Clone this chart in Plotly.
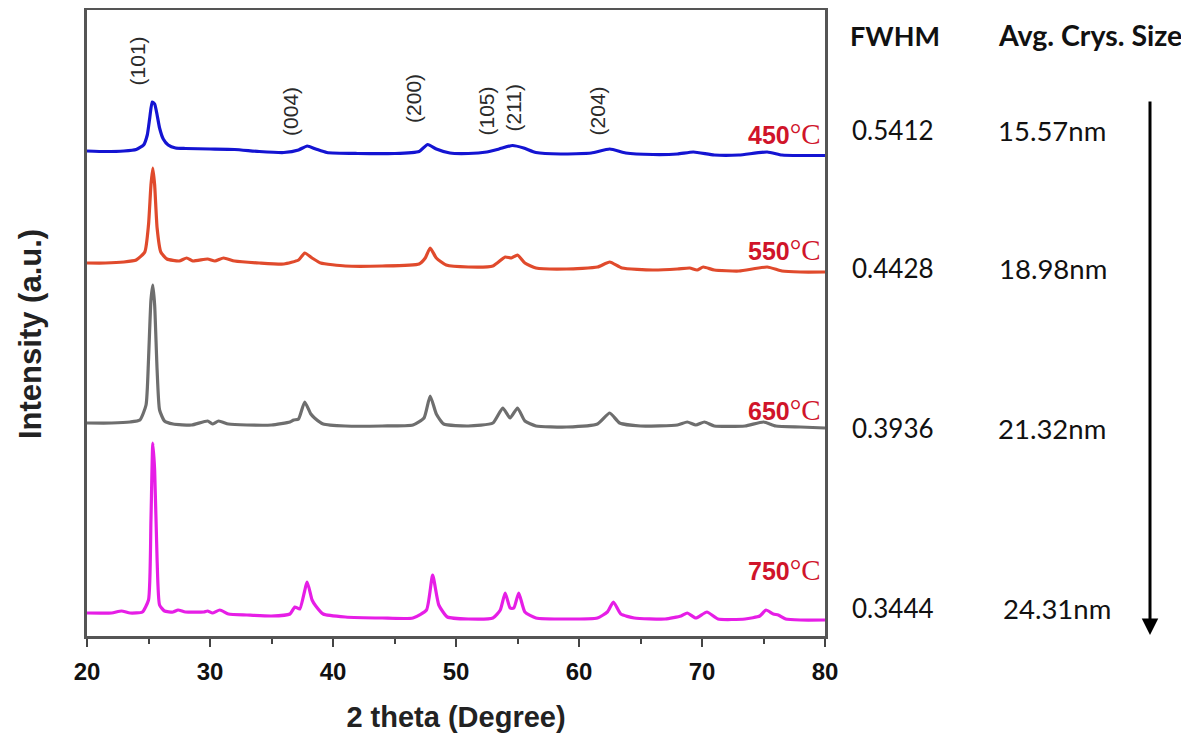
import plotly.graph_objects as go

# ---------------- data ----------------
two_theta_450 = [20.0, 21.5, 23.0, 24.0, 24.6, 24.9, 25.1, 25.3, 25.5, 25.7, 25.9, 26.2, 26.6, 27.2, 28.0, 30.0,
                 32.0, 34.0, 36.0, 37.2, 37.9, 38.6, 39.5, 42.0, 45.0, 47.0, 47.7, 48.4, 49.5, 51.0, 52.5, 53.5,
                 54.6, 55.5, 56.5, 58.5, 61.0, 62.5, 63.8, 66.0, 68.0, 69.3, 71.0, 73.0, 75.3, 76.5, 78.0, 80.0]
int_450 = [485, 484.5, 485, 486.5, 491, 501, 518, 534, 532, 521, 508, 497, 491, 488, 487.5, 487,
           486.5, 484.5, 483.5, 486, 490, 487, 483.5, 482.5, 482.5, 484.5, 491.5, 487, 483, 482.5, 484, 487,
           490.5, 488, 483.5, 482, 483, 487, 483, 481.5, 482, 484, 481, 481, 484, 481, 480.5, 480.5]

two_theta_550 = [20.0, 21.5, 23.0, 24.0, 24.7, 25.0, 25.2, 25.35, 25.5, 25.7, 26.0, 26.5, 27.5, 28.1, 28.6, 29.8,
                 30.4, 31.1, 32.0, 34.0, 36.0, 37.2, 37.7, 38.3, 39.0, 41.0, 44.0, 47.0, 47.5, 47.9, 48.4, 49.2,
                 51.0, 53.0, 54.0, 54.5, 55.0, 55.6, 56.5, 59.0, 61.5, 62.5, 63.5, 66.0, 68.0, 69.0, 69.6, 70.1,
                 71.0, 73.0, 75.3, 76.5, 78.0, 80.0]
int_550 = [373, 373, 374, 376, 384, 411, 451, 468, 451, 408, 384, 377, 375, 378, 375, 377,
           375, 378, 375, 373, 372, 376, 383, 378, 373, 370, 370, 372, 378, 388, 378, 371,
           369, 370, 379, 378, 381, 373, 368, 367, 369, 374, 368, 366, 367, 368, 366, 369,
           366, 365, 369, 365, 364, 364]

two_theta_650 = [20.0, 22.0, 23.5, 24.3, 24.8, 25.0, 25.2, 25.35, 25.5, 25.7, 25.9, 26.3, 27.0, 28.5, 29.8, 30.2,
                 30.7, 31.5, 33.0, 35.0, 36.5, 36.8, 37.2, 37.7, 38.2, 38.5, 39.2, 41.0, 44.0, 46.5, 47.4, 47.9,
                 48.4, 49.0, 51.0, 53.0, 53.8, 54.4, 55.0, 55.6, 56.5, 59.0, 61.5, 62.5, 63.3, 65.0, 68.0, 68.8,
                 69.5, 70.2, 71.0, 73.5, 75.0, 76.0, 78.0, 80.0]
int_650 = [213, 213, 214, 216, 231, 276, 336, 351, 331, 266, 226, 215, 212, 211, 215, 212,
           215, 212, 211, 211, 214, 216, 217, 234, 222, 218, 212, 210, 210, 211, 218, 240,
           222, 212, 210, 213, 228, 218, 228, 215, 210, 209, 212, 223, 213, 210, 211, 214,
           211, 214, 210, 210, 214, 210, 209, 208]

two_theta_750 = [20.0, 22.0, 22.8, 23.5, 24.5, 25.0, 25.2, 25.35, 25.5, 25.7, 25.9, 26.3, 27.0, 27.4, 28.0, 29.5,
                 29.8, 30.2, 30.8, 31.5, 33.0, 35.0, 36.5, 36.9, 37.3, 37.9, 38.3, 38.6, 39.2, 41.0, 44.0, 46.5,
                 47.6, 48.1, 48.6, 49.3, 51.0, 53.0, 53.6, 54.0, 54.4, 54.7, 55.1, 55.6, 56.5, 59.0, 61.5, 62.3,
                 62.8, 63.4, 64.5, 67.0, 68.3, 68.8, 69.5, 70.4, 71.3, 73.5, 74.7, 75.2, 75.8, 76.2, 76.8, 78.0, 80.0]
int_750 = [23, 23, 25, 23, 24, 36, 116, 193, 166, 76, 31, 25, 24, 26, 24, 24,
           25, 23, 26, 22, 21, 20, 22, 29, 27, 54, 36, 30, 22, 19, 18, 18,
           26, 61, 31, 19, 17, 18, 26, 43, 28, 28, 43, 24, 18, 17, 18, 24,
           34, 22, 18, 17, 20, 23, 18, 24, 17, 17, 20, 26, 22, 21, 17, 16, 16]

temperatures = ["450", "550", "650", "750"]
colors = ["#1414d2", "#e04a2c", "#6e6e6e", "#e61ee6"]
fwhm = ["0.5412", "0.4428", "0.3936", "0.3444"]
crystal_size = ["15.57nm", "18.98nm", "21.32nm", "24.31nm"]

peak_labels = ["(101)", "(004)", "(200)", "(105)", "(211)", "(204)"]
peak_label_x = [24.1, 36.5, 46.5, 52.4, 54.6, 61.5]
peak_label_y = [575, 525, 538, 525, 528, 525]

x_ticks = [20, 30, 40, 50, 60, 70, 80]

series_x = [two_theta_450, two_theta_550, two_theta_650, two_theta_750]
series_y = [int_450, int_550, int_650, int_750]

# ---------------- layout geometry (page pixels) ----------------
PAGE_W, PAGE_H = 1189, 743
OFF = 8                       # default body margin of the html page
L, R, T, B = 87, 825, 10, 636  # plot area edges on the page
W, H = PAGE_W - OFF, PAGE_H - OFF

def px_x(p):
    return (p - L) / (R - L)

def px_y(p):
    return (B - p) / (B - T)

fig = go.Figure()
for xs, ys, c, t in zip(series_x, series_y, colors, temperatures):
    fig.add_trace(go.Scatter(x=xs, y=ys, mode="lines", name=t + "°C",
                             line=dict(color=c, width=3.2, shape="spline", smoothing=0.5),
                             showlegend=False))

ann = []
# temperature labels (right inside the plot)
temp_label_y = [502, 386, 226, 66]
for t, yv in zip(temperatures, temp_label_y):
    ann.append(dict(x=79.8, y=yv, xref="x", yref="y", xanchor="right", yanchor="middle",
                    text="<b>" + t + "</b><span style='font-family:Liberation Serif;font-size:29px'>°C</span>",
                    showarrow=False, font=dict(family="Liberation Sans", size=25, color="#d0142a")))

# peak labels
for lab, xv, yv in zip(peak_labels, peak_label_x, peak_label_y):
    ann.append(dict(x=xv, y=yv, xref="x", yref="y", textangle=-90, text=lab, showarrow=False,
                    xanchor="center", yanchor="middle",
                    font=dict(family="Liberation Sans", size=21, color="#2a2a2a")))

# right side columns
row_px = [130, 268, 428, 608]
ann.append(dict(x=px_x(895), y=px_y(35), xref="paper", yref="paper", text="<b>FWHM</b>", showarrow=False,
                xanchor="center", yanchor="middle",
                font=dict(family="Lato", size=27, color="#111")))
ann.append(dict(x=px_x(1090), y=px_y(35), xref="paper", yref="paper", text="<b>Avg. Crys. Size</b>",
                xanchor="center", yanchor="middle",
                showarrow=False, font=dict(family="Lato", size=28.5, color="#111")))
size_px = [1052, 1053, 1052, 1057]
for f, s, rp, sp in zip(fwhm, crystal_size, row_px, size_px):
    ann.append(dict(x=px_x(893), y=px_y(rp), xref="paper", yref="paper", text=f, showarrow=False,
                    xanchor="center", yanchor="middle",
                    font=dict(family="Lato", size=26, color="#111")))
    ann.append(dict(x=px_x(sp), y=px_y(rp), xref="paper", yref="paper", text=s, showarrow=False,
                    xanchor="center", yanchor="middle",
                    font=dict(family="Lato", size=27.5, color="#111")))

# y-axis title
ann.append(dict(x=px_x(30), y=px_y(334), xref="paper", yref="paper", textangle=-90, showarrow=False,
                text="<b>Intensity (a.u.)</b>", xanchor="center", yanchor="middle",
                font=dict(family="Liberation Sans", size=31, color="#222")))

# arrow
ann.append(dict(x=px_x(1150), y=px_y(635), xref="paper", yref="paper", ax=0, ay=-535,
                axref="pixel", ayref="pixel", text="", showarrow=True, arrowhead=2,
                arrowsize=1.1, arrowwidth=3, arrowcolor="#000"))

fig.update_layout(
    width=W, height=H,
    margin=dict(l=L - OFF, r=PAGE_W - R, t=T - OFF, b=PAGE_H - B, autoexpand=False),
    paper_bgcolor="white", plot_bgcolor="white",
    annotations=ann,
    xaxis=dict(range=[20, 80], tickvals=x_ticks, ticktext=["<b>%d</b>" % v for v in x_ticks],
               ticks="outside", ticklen=8, tickwidth=2, tickcolor="#444",
               minor=dict(dtick=5, tick0=20, ticks="outside", ticklen=5, tickwidth=1.5, tickcolor="#444"),
               showline=True, linecolor="#555", linewidth=2.5, mirror=True,
               showgrid=False, zeroline=False, automargin=False, ticklabelstandoff=4,
               tickfont=dict(family="Liberation Sans", size=24, color="#111"),
               title=dict(text="<b>2 theta (Degree)</b>", standoff=24,
                          font=dict(family="Liberation Sans", size=29, color="#222"))),
    yaxis=dict(range=[0, 626], showticklabels=False, ticks="",
               showline=True, linecolor="#555", linewidth=2.5, mirror=True,
               showgrid=False, zeroline=False, automargin=False),
)

fig.write_html("out.html")
